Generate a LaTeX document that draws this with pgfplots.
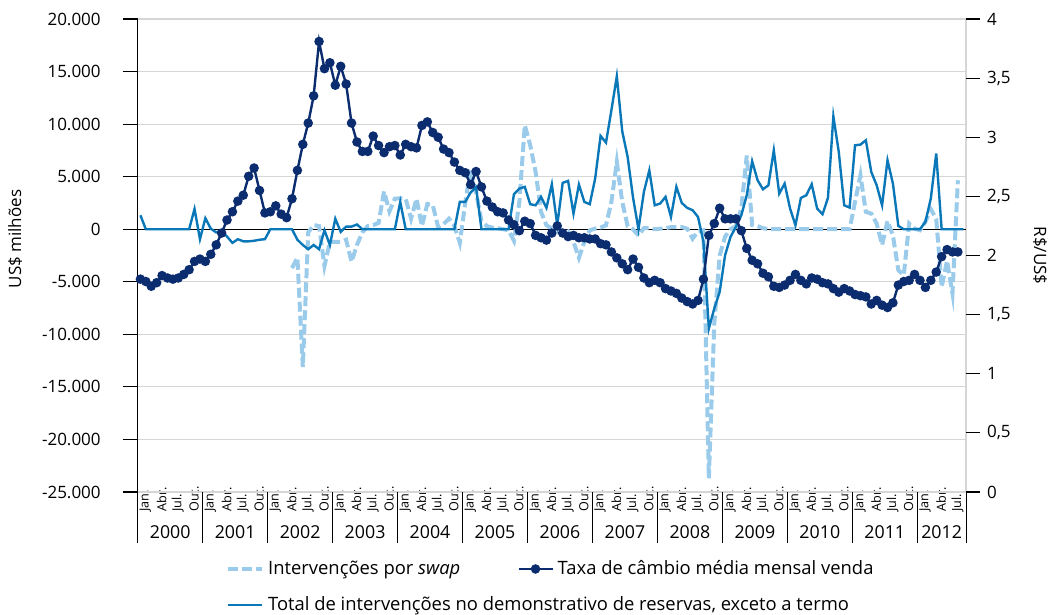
\documentclass[border=0pt]{standalone}
\usepackage{fontspec}
\setmainfont{Open Sans}
\usepackage{pgfplots}
\pgfplotsset{compat=1.18}
\definecolor{navy}{HTML}{0B2C6E}
\definecolor{midblue}{HTML}{0A78B8}
\definecolor{lightblue}{HTML}{9ACBEA}
\definecolor{gridgray}{HTML}{D6D6D6}
\newcommand{\lblfont}{\fontsize{8.5bp}{10bp}\selectfont}
\newcommand{\legfont}{\fontsize{9.2bp}{11bp}\selectfont}
\newcommand{\monfont}{\fontsize{6.3bp}{7bp}\selectfont}
\newcommand{\yrfont}{\fontsize{8.9bp}{10bp}\selectfont}
\begin{document}
\begin{tikzpicture}
\path[use as bounding box] (-68.85bp,-61.5bp) rectangle (460.65bp,246bp);
\begin{axis}[
  at={(0,0)}, anchor=south west,
  scale only axis, width=414.15bp, height=236.5bp,
  xmin=-0.5, xmax=152.5, ymin=-25000, ymax=20000,
  clip=false,
  axis line style={draw=none},
  scaled y ticks=false,
  /pgf/number format/assume math mode=true,
  ytick={-25000,-20000,...,20000},
  yticklabels={-25.000,-20.000,-15.000,-10.000,-5.000,0,5.000,10.000,15.000,20.000},
  ytick pos=left,
  tick align=outside,
  major tick length=7.5bp,
  major y tick style={black, line width=0.6bp},
  major x tick style={draw=none},
  yticklabel style={font=\lblfont, xshift=-7.5bp},
  ymajorgrids,
  major grid style={gridgray, line width=0.6bp},
  xtick={0,3,...,150},
  xticklabels={Jan.,Abr.,Jul.,Out.,Jan.,Abr.,Jul.,Out.,Jan.,Abr.,Jul.,Out.,Jan.,Abr.,Jul.,Out.,Jan.,Abr.,Jul.,Out.,Jan.,Abr.,Jul.,Out.,Jan.,Abr.,Jul.,Out.,Jan.,Abr.,Jul.,Out.,Jan.,Abr.,Jul.,Out.,Jan.,Abr.,Jul.,Out.,Jan.,Abr.,Jul.,Out.,Jan.,Abr.,Jul.,Out.,Jan.,Abr.,Jul.},
  xticklabel style={font=\monfont, yshift=-5.8bp, xshift=2.5bp, rotate=90, anchor=west},
  ylabel={US\$ milhões},
  ylabel style={font=\lblfont, at={(axis description cs:-0.148,0.535)}, anchor=center},
]
\draw[gridgray, line width=1.2bp] (rel axis cs:0,1) -- (rel axis cs:1,1);
\draw[gridgray, line width=1.2bp] (rel axis cs:0,0) -- (rel axis cs:1,0);
\draw[gridgray, line width=0.8bp] (rel axis cs:1,0) -- (rel axis cs:1,1);
\draw[black, line width=0.7bp] (rel axis cs:0,0) -- (rel axis cs:0,1);
\draw[black, line width=0.6bp] (axis cs:-0.5,0) -- (axis cs:152.5,0);
\pgfplotsinvokeforeach{0,...,12}{\draw[black, line width=0.5bp] (axis cs:{#1*12-0.5},-25000) -- ([yshift=-25.5bp]axis cs:{#1*12-0.5},-25000);}
\draw[black, line width=0.5bp] (axis cs:152.5,-25000) -- ([yshift=-25.5bp]axis cs:152.5,-25000);
\pgfplotsinvokeforeach{2000,...,2011}{\node[font=\yrfont, yshift=-20bp] at (axis cs:{(#1-2000)*12+5.5},-25000) {#1};}
\node[font=\yrfont, yshift=-20bp] at (axis cs:148,-25000) {2012};
% swap interventions
\addplot[lightblue, line width=2bp, dash pattern=on 5bp off 2bp] coordinates {
(28,-3700) (29,-2700) (30,-13100) (31,-300) (32,400) (33,300) (34,-3500) (35,-1200)
(36,-1200) (37,-1200) (38,-1000) (39,-3100) (40,-1500) (41,-300) (42,300) (43,400) (44,600) (45,3600) (46,1700) (47,2900)
(48,2950) (49,2900) (50,1000) (51,2900) (52,300) (53,2400) (54,2300) (55,200) (56,500) (57,1000) (58,300) (59,-1300)
(60,2500) (61,5800) (62,3500) (63,800) (64,300) (65,150) (66,100) (67,0) (68,-100) (69,-1100) (70,2600) (71,9900)
(72,8000) (73,5450) (74,1650) (75,380) (76,60) (77,220) (78,-250) (79,-190) (80,-1200) (81,-2730) (82,-1200) (83,-100)
(84,60) (85,160) (86,380) (87,2600) (88,6400) (89,2600) (90,300) (91,0) (92,-600) (93,100) (94,100) (95,0)
(96,50) (97,100) (98,200) (99,200) (100,200) (101,50) (102,-900) (103,-200) (104,-100) (105,-23700) (106,-9000) (107,-2500)
(108,-700) (109,0) (110,300) (111,2000) (112,7000) (113,400) (114,300) (115,100) (116,0) (117,0) (118,0) (119,0)
(120,0) (121,0) (122,0) (123,0) (124,0) (125,0) (126,0) (127,0) (128,0) (129,0) (130,0) (131,0)
(132,2600) (133,5130) (134,1650) (135,1490) (136,540) (137,-1500) (138,800) (139,-600) (140,-3900) (141,-4370) (142,540) (143,60)
(144,-100) (145,700) (146,1900) (147,1000) (148,-5500) (149,-3000) (150,-6120) (151,4660)
};
% total interventions
\addplot[midblue, line width=1.2bp] coordinates {
(0,1330) (1,0) (2,0) (3,0) (4,0) (5,0) (6,0) (7,0) (8,0) (9,0) (10,1930) (11,-950)
(12,1050) (13,50) (14,-300) (15,-150) (16,-700) (17,-1300) (18,-950) (19,-1150) (20,-1150) (21,-1100) (22,-1000) (23,-950)
(24,0) (25,0) (26,0) (27,0) (28,0) (29,-1000) (30,-1500) (31,-1900) (32,-1500) (33,-1900) (34,-100) (35,-1500)
(36,1000) (37,-250) (38,250) (39,250) (40,450) (41,0) (42,0) (43,0) (44,0) (45,0) (46,0) (47,0)
(48,2600) (49,0) (50,0) (51,0) (52,0) (53,0) (54,0) (55,0) (56,0) (57,0) (58,0) (59,2600)
(60,2600) (61,3500) (62,4000) (63,0) (64,0) (65,0) (66,0) (67,0) (68,0) (69,3330) (70,3870) (71,4030)
(72,2380) (73,2280) (74,3080) (75,2030) (76,4280) (77,380) (78,4410) (79,4600) (80,1490) (81,4250) (82,2600) (83,2380)
(84,4820) (85,8880) (86,8240) (87,11320) (88,14550) (89,9320) (90,6880) (91,3000) (92,0) (93,3550) (94,5610) (95,2280)
(96,2440) (97,3080) (98,1170) (99,4030) (100,2500) (101,2030) (102,1810) (103,1170) (104,-1200) (105,-9450) (106,-7540) (107,-5960)
(108,-2470) (109,-730) (110,220) (111,1330) (112,3230) (113,6470) (114,4660) (115,3800) (116,4180) (117,7510) (118,3390) (119,4340)
(120,1970) (121,380) (122,2980) (123,3230) (124,4280) (125,1970) (126,1430) (127,2980) (128,10750) (129,7350) (130,2280) (131,2060)
(132,7990) (133,8050) (134,8460) (135,5450) (136,4180) (137,2280) (138,6560) (139,4340) (140,320) (141,0) (142,0) (143,0)
(144,0) (145,700) (146,2920) (147,7200) (148,0) (149,0) (150,0) (151,0) (152,0)
};
\end{axis}
\begin{axis}[
  at={(0,0)}, anchor=south west,
  scale only axis, width=414.15bp, height=236.5bp,
  xmin=-0.5, xmax=152.5, ymin=0, ymax=4,
  axis line style={draw=none},
  /pgf/number format/assume math mode=true,
  xtick=\empty,
  ytick={0,0.5,...,4},
  yticklabels={0,{0,5},1,{1,5},2,{2,5},3,{3,5},4},
  ytick pos=right,
  tick align=outside,
  major tick length=7bp,
  major y tick style={black, line width=0.6bp},
  yticklabel style={font=\lblfont},
  ylabel={R\$/US\$},
  ylabel style={font=\lblfont, at={(axis description cs:1.0893,0.5)}, anchor=center, rotate=180},
  legend columns=2,
  legend cell align=left,
  legend style={font=\legfont, draw=none, fill=none, at={(axis description cs:0.5,-0.127)}, anchor=north,
    /tikz/every even column/.append style={column sep=26.5bp}, row sep=5.5bp},
]
\addlegendimage{lightblue, line width=2bp, dash pattern=on 5bp off 2bp}
\addlegendentry{Intervenções por \textit{swap}}
\addplot[navy, line width=1.2bp, mark=*, mark size=1.75bp, mark options={solid, fill=navy, draw=navy}] coordinates {
(0,1.80) (1,1.78) (2,1.74) (3,1.77) (4,1.83) (5,1.81) (6,1.80) (7,1.81) (8,1.84) (9,1.88) (10,1.95) (11,1.97)
(12,1.95) (13,2.01) (14,2.09) (15,2.19) (16,2.30) (17,2.37) (18,2.46) (19,2.51) (20,2.67) (21,2.74) (22,2.55) (23,2.36)
(24,2.37) (25,2.42) (26,2.35) (27,2.32) (28,2.48) (29,2.72) (30,2.94) (31,3.12) (32,3.35) (33,3.81) (34,3.58) (35,3.63)
(36,3.44) (37,3.60) (38,3.45) (39,3.12) (40,2.96) (41,2.88) (42,2.88) (43,3.01) (44,2.93) (45,2.87) (46,2.92) (47,2.93)
(48,2.85) (49,2.94) (50,2.92) (51,2.91) (52,3.10) (53,3.13) (54,3.04) (55,3.00) (56,2.90) (57,2.87) (58,2.79) (59,2.72)
(60,2.70) (61,2.60) (62,2.71) (63,2.58) (64,2.46) (65,2.41) (66,2.37) (67,2.36) (68,2.30) (69,2.26) (70,2.21) (71,2.29)
(72,2.27) (73,2.17) (74,2.15) (75,2.13) (76,2.19) (77,2.25) (78,2.19) (79,2.16) (80,2.17) (81,2.15) (82,2.15) (83,2.14)
(84,2.14) (85,2.10) (86,2.09) (87,2.03) (88,1.98) (89,1.93) (90,1.88) (91,1.97) (92,1.90) (93,1.81) (94,1.77) (95,1.79)
(96,1.77) (97,1.72) (98,1.70) (99,1.68) (100,1.64) (101,1.61) (102,1.59) (103,1.62) (104,1.80) (105,2.17) (106,2.27) (107,2.40)
(108,2.31) (109,2.31) (110,2.31) (111,2.21) (112,2.06) (113,1.96) (114,1.93) (115,1.85) (116,1.82) (117,1.74) (118,1.73) (119,1.75)
(120,1.79) (121,1.84) (122,1.79) (123,1.76) (124,1.81) (125,1.80) (126,1.77) (127,1.76) (128,1.72) (129,1.69) (130,1.72) (131,1.70)
(132,1.67) (133,1.66) (134,1.65) (135,1.59) (136,1.62) (137,1.58) (138,1.56) (139,1.60) (140,1.75) (141,1.78) (142,1.79) (143,1.84)
(144,1.79) (145,1.73) (146,1.79) (147,1.86) (148,1.99) (149,2.05) (150,2.03) (151,2.03)
};
\addlegendentry{Taxa de câmbio média mensal venda}
\addlegendimage{midblue, line width=1.2bp}
\addlegendentry{\makebox[0pt][l]{Total de intervenções no demonstrativo de reservas, exceto a termo}}
\end{axis}
\end{tikzpicture}
\end{document}
